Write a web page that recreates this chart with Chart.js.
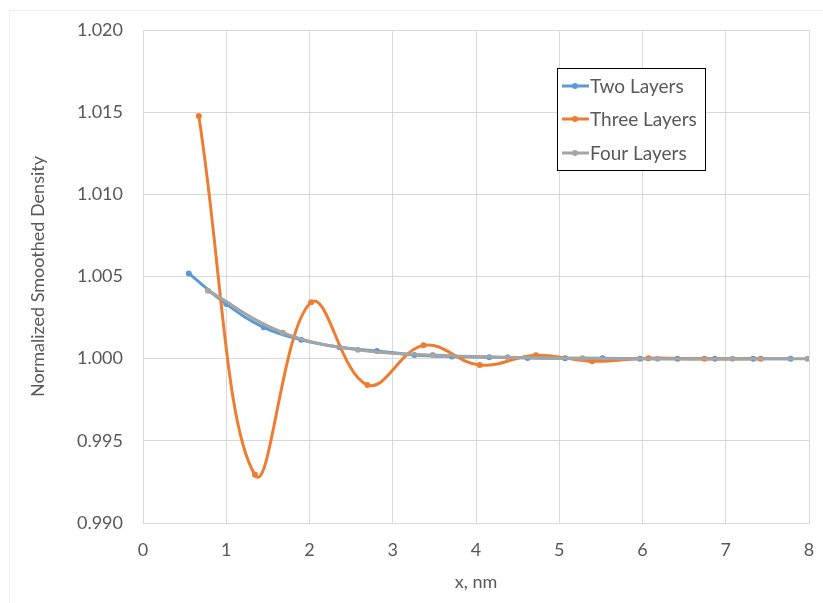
<!DOCTYPE html>
<html>
<head>
<meta charset="utf-8">
<script src="https://cdn.jsdelivr.net/npm/chart.js@4"></script>
<style>
  html, body { margin: 0; background: #fff; overflow: hidden; }
  canvas { display: block; }
</style>
</head>
<body>
<canvas id="densityChart" width="823" height="603"></canvas>
<script>
// values
const twoX = [0.55, 1.00, 1.45, 1.90, 2.36, 2.81, 3.26, 3.71, 4.16, 4.62, 5.07, 5.52, 5.97, 6.42, 6.87, 7.33, 7.78];
const twoY = [1.00519, 1.00332, 1.00191, 1.00115, 1.00070, 1.00047, 1.00023, 1.00013, 1.00009, 1.00004, 1.00002, 1.00003, 1.00000, 1.00000, 1.00000, 1.00000, 1.00000];

const threeX = [0.67, 1.345, 2.02, 2.695, 3.37, 4.045, 4.72, 5.395, 6.07, 6.745, 7.42];
const threeY = [1.01476, 0.99293, 1.00343, 0.99840, 1.00081, 0.99961, 1.00021, 0.99984, 1.00003, 0.99999, 0.99999];

const fourX = [0.78, 1.68, 2.58, 3.48, 4.38, 5.28, 6.18, 7.08, 7.98];
const fourY = [1.00414, 1.00158, 1.00054, 1.00022, 1.00008, 1.00002, 0.99999, 0.99999, 1.00000];

const seriesNames = ['Two Layers', 'Three Layers', 'Four Layers'];
const seriesColors = ['#5B9BD5', '#ED7D31', '#A5A5A5'];

const xTitle = 'x, nm';
const yTitle = 'Normalized Smoothed Density';

function toPoints(xs, ys) {
    return xs.map((x, i) => ({ x: x, y: ys[i] }));
}

const fontFamily = 'Lato, "Open Sans", sans-serif';
const textColor = '#595959';

// faint outer chart frame (top and left edges only are visible in the picture)
const outerFrame = {
    id: 'outerFrame',
    beforeDraw(chart) {
        const ctx = chart.ctx;
        ctx.save();
        ctx.strokeStyle = '#EEEEEE';
        ctx.lineWidth = 1;
        ctx.beginPath();
        ctx.moveTo(823, 10.5);
        ctx.lineTo(9.5, 10.5);
        ctx.lineTo(9.5, 603);
        ctx.stroke();
        ctx.restore();
    }
};

// Excel-style boxed legend inside the plot area
const boxLegend = {
    id: 'boxLegend',
    afterDraw(chart) {
        const ctx = chart.ctx;
        const left = 557, top = 68, w = 148, h = 102;
        ctx.save();
        ctx.fillStyle = '#fff';
        ctx.fillRect(left, top, w, h);
        ctx.strokeStyle = '#000';
        ctx.lineWidth = 1;
        ctx.strokeRect(left + 0.5, top + 0.5, w, h);
        ctx.font = '19px ' + fontFamily;
        ctx.textBaseline = 'middle';
        const rows = [86, 119, 153];
        chart.data.datasets.forEach((ds, i) => {
            const y = rows[i];
            ctx.strokeStyle = ds.borderColor;
            ctx.lineWidth = 3;
            ctx.beginPath();
            ctx.moveTo(left + 5, y);
            ctx.lineTo(left + 32, y);
            ctx.stroke();
            ctx.fillStyle = ds.borderColor;
            ctx.beginPath();
            ctx.arc(left + 18, y, 3, 0, Math.PI * 2);
            ctx.fill();
            ctx.fillStyle = textColor;
            ctx.textAlign = 'left';
            ctx.fillText(ds.label, left + 33, y + 1);
        });
        ctx.restore();
    }
};

const ctx = document.getElementById('densityChart').getContext('2d');
const chart = new Chart(ctx, {
    type: 'line',
    data: {
        datasets: [
            { label: seriesNames[0], data: toPoints(twoX, twoY), order: 3 },
            { label: seriesNames[1], data: toPoints(threeX, threeY), order: 2 },
            { label: seriesNames[2], data: toPoints(fourX, fourY), order: 1 }
        ].map((ds, i) => Object.assign(ds, {
            borderColor: seriesColors[i],
            backgroundColor: seriesColors[i],
            borderWidth: 3,
            pointRadius: 3,
            pointBorderWidth: 0,
            tension: 0.4,
            fill: false
        }))
    },
    options: {
        responsive: false,
        animation: false,
        layout: { padding: { top: 30, right: 14, left: 0, bottom: 0 } },
        plugins: {
            legend: { display: false },
            tooltip: { enabled: false }
        },
        scales: {
            x: {
                type: 'linear',
                min: 0,
                max: 8,
                ticks: {
                    stepSize: 1,
                    padding: 16,
                    color: textColor,
                    font: { family: fontFamily, size: 18 }
                },
                grid: { color: '#D9D9D9', drawTicks: false },
                border: { color: '#D9D9D9' },
                title: {
                    display: true,
                    text: xTitle,
                    color: textColor,
                    font: { family: fontFamily, size: 18 },
                    padding: { top: 4, bottom: 10 }
                },
                afterFit(scale) {
                    scale.height = 80;
                    scale.paddingRight = 0;
                    scale.paddingLeft = 0;
                }
            },
            y: {
                min: 0.99,
                max: 1.02,
                ticks: {
                    stepSize: 0.005,
                    padding: 20,
                    color: textColor,
                    font: { family: fontFamily, size: 18 },
                    callback: v => v.toFixed(3)
                },
                grid: { color: '#D9D9D9', drawTicks: false },
                border: { color: '#D9D9D9' },
                title: {
                    display: true,
                    text: yTitle,
                    color: textColor,
                    font: { family: fontFamily, size: 18 },
                    padding: { top: 27, bottom: 0 }
                },
                afterFit(scale) {
                    scale.width = 143;
                    scale.paddingTop = 0;
                    scale.paddingBottom = 0;
                }
            }
        }
    },
    plugins: [outerFrame, boxLegend]
});
</script>
</body>
</html>
